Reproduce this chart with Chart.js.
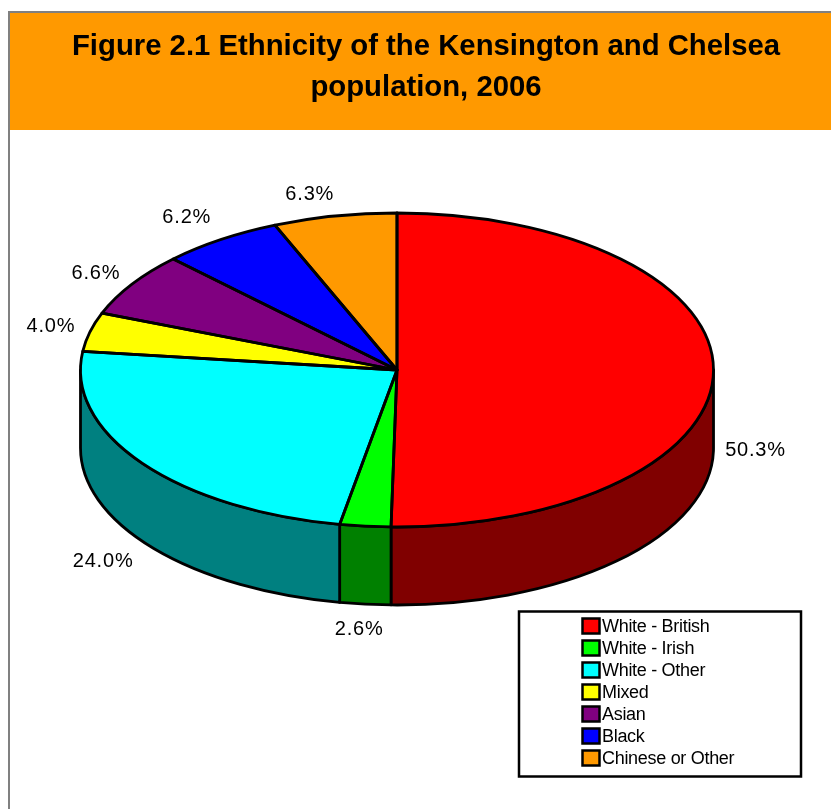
<!DOCTYPE html>
<html>
<head>
<meta charset="utf-8">
<style>
html,body{margin:0;padding:0;background:#fff;overflow:hidden}
#wrap{position:absolute;left:0;top:0;width:831px;height:809px}
</style>
<script src="https://cdn.jsdelivr.net/npm/chart.js@4"></script>
</head>
<body>
<div id="wrap"><canvas id="c" width="831" height="809"></canvas></div>
<script>
const categories = ["White - British","White - Irish","White - Other","Mixed","Asian","Black","Chinese or Other"];
const shares = [50.3,2.6,24.0,4.0,6.6,6.2,6.3];
const topColors = ["#FF0000","#00FF00","#00FFFF","#FFFF00","#800080","#0000FF","#FF9900"];
const sideColors = ["#800000","#008000","#008080","#808000","#400040","#000080","#804C00"];
const titleLines = ["Figure 2.1 Ethnicity of the Kensington and Chelsea","population, 2006"];

// Layout constants (not data)
const CX = 397, CY = 370, RX = 316.5, RY = 157, DEPTH = 78;
const K = RY / RX;
const labelNudge = [[42,1],[-6,25],[-39,20],[-39,-5],[-36,-11],[-34,-22],[-25,-22]];
const FONT = '"Liberation Sans", Arial, sans-serif';

function setPieTransform(ctx, arc) {
  ctx.translate(CX, CY);
  ctx.scale(1, K);
  ctx.translate(-arc.x, -arc.y);
}

const pie3d = {
  id: 'pie3d',
  afterLayout(chart) {
    // title is centred on the orange band as in the original
    chart.titleBlock.left = 21;
    chart.titleBlock.right = 831;
  },
  beforeDraw(chart) {
    const ctx = chart.ctx;
    ctx.save();
    ctx.fillStyle = '#FF9900';
    ctx.fillRect(10, 13, 821, 117);
    ctx.fillStyle = '#808080';
    ctx.fillRect(8, 11, 823, 2);
    ctx.fillRect(8, 11, 2, 798);
    ctx.restore();
  },
  beforeDatasetsDraw(chart) {
    const ctx = chart.ctx;
    const arcs = chart.getDatasetMeta(0).data;
    ctx.save();
    ctx.lineWidth = 2.8;
    ctx.strokeStyle = '#000';
    ctx.lineJoin = 'round';
    arcs.forEach((arc, i) => {
      // portion of the slice on the front half of the ellipse
      const TWO = Math.PI * 2;
      for (const shift of [-TWO, 0, TWO]) {
        const a = Math.max(arc.startAngle + shift, 0);
        const b = Math.min(arc.endAngle + shift, Math.PI);
        if (b <= a) continue;
        ctx.beginPath();
        ctx.ellipse(CX, CY, RX, RY, 0, a, b, false);
        ctx.ellipse(CX, CY + DEPTH, RX, RY, 0, b, a, true);
        ctx.closePath();
        ctx.fillStyle = sideColors[i];
        ctx.fill();
        ctx.stroke();
      }
    });
    ctx.restore();
    ctx.save();
    setPieTransform(ctx, arcs[0]);
  },
  afterDatasetsDraw(chart) {
    const ctx = chart.ctx;
    ctx.restore();
    const arcs = chart.getDatasetMeta(0).data;
    ctx.save();
    ctx.lineWidth = 2.8;
    ctx.strokeStyle = '#000';
    ctx.lineJoin = 'round';
    arcs.forEach(arc => {
      ctx.beginPath();
      ctx.moveTo(CX, CY);
      ctx.ellipse(CX, CY, RX, RY, 0, arc.startAngle, arc.endAngle, false);
      ctx.closePath();
      ctx.stroke();
    });
    // value labels
    ctx.fillStyle = '#000';
    ctx.font = '20px ' + FONT;
    ctx.letterSpacing = '0.8px';
    ctx.textAlign = 'center';
    ctx.textBaseline = 'middle';
    arcs.forEach((arc, i) => {
      const mid = (arc.startAngle + arc.endAngle) / 2;
      const px = CX + RX * Math.cos(mid);
      const py = CY + RY * Math.sin(mid) + (Math.sin(mid) > -0.02 ? DEPTH : 0);
      ctx.fillText(shares[i].toFixed(1) + '%', px + labelNudge[i][0], py + labelNudge[i][1]);
    });
    ctx.restore();
    // legend
    ctx.save();
    ctx.fillStyle = '#fff';
    ctx.strokeStyle = '#000';
    ctx.lineWidth = 2.5;
    ctx.fillRect(519, 611.5, 282, 165);
    ctx.strokeRect(519, 611.5, 282, 165);
    ctx.font = '18px ' + FONT;
    ctx.letterSpacing = '-0.3px';
    ctx.textAlign = 'left';
    ctx.textBaseline = 'middle';
    categories.forEach((name, i) => {
      const y = 626 + 22 * i;
      ctx.fillStyle = topColors[i];
      ctx.fillRect(582.5, y - 7.5, 17, 15);
      ctx.strokeRect(582.5, y - 7.5, 17, 15);
      ctx.fillStyle = '#000';
      ctx.fillText(name, 602, y + 1);
    });
    ctx.restore();
  }
};

new Chart(document.getElementById('c'), {
  type: 'pie',
  data: {
    labels: categories,
    datasets: [{
      data: shares,
      backgroundColor: topColors,
      borderWidth: 0,
      radius: RX,
      clip: false
    }]
  },
  options: {
    responsive: false,
    animation: false,
    events: [],
    plugins: {
      legend: { display: false },
      tooltip: { enabled: false },
      title: {
        display: true,
        text: titleLines,
        color: '#000',
        align: 'center',
        font: { family: FONT, size: 29.3, weight: 'bold', lineHeight: 1.4 },
        padding: { top: 26, bottom: 10 }
      }
    }
  },
  plugins: [pie3d]
});
</script>
</body>
</html>
